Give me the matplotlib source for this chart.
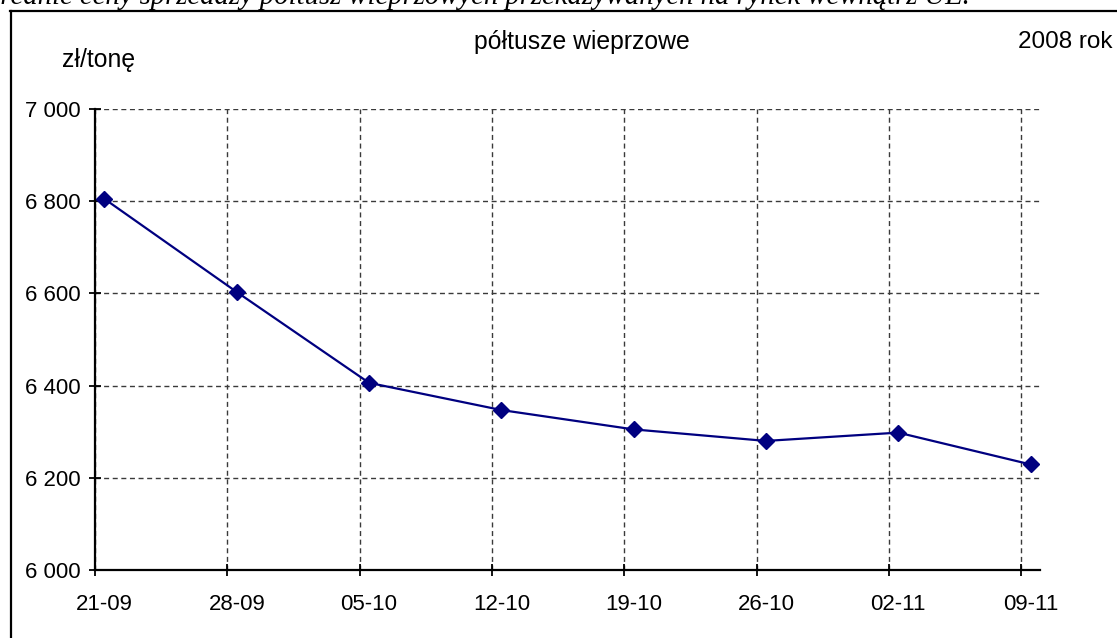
import matplotlib
matplotlib.use('Agg')
import matplotlib.pyplot as plt
import matplotlib.dates as mdates
from matplotlib.lines import Line2D
from datetime import datetime

# ---- data ----
dates = ['2008-09-21', '2008-09-28', '2008-10-05', '2008-10-12',
         '2008-10-19', '2008-10-26', '2008-11-02', '2008-11-09']
tick_labels = ['21-09', '28-09', '05-10', '12-10', '19-10', '26-10', '02-11', '09-11']
prices = [6805, 6603, 6406, 6347, 6305, 6280, 6298, 6229]
y_ticks = [6000, 6200, 6400, 6600, 6800, 7000]
y_tick_labels = ['6 000', '6 200', '6 400', '6 600', '6 800', '7 000']
title = 'półtusze wieprzowe'
unit_label = 'zł/tonę'
year_label = '2008 rok'
top_caption = 'Średnie ceny sprzedaży półtusz wieprzowych przekazywanych na rynek wewnątrz UE.'

plt.rcParams['font.family'] = ['Liberation Sans', 'DejaVu Sans']

W, H = 1117, 638
fig = plt.figure(figsize=(W / 100, H / 100), dpi=100)
fig.patch.set_facecolor('white')

L, R, T, B = 95, 1040, 109, 570
ax = fig.add_axes([L / W, 1 - B / H, (R - L) / W, (B - T) / H])

d = [datetime.strptime(s, '%Y-%m-%d') for s in dates]
major = [mdates.date2num(t) for t in d]
centers = [m + 0.5 for m in major]

ax.plot(centers, prices, color='#000080', lw=1.6, marker='D', ms=8.5,
        mfc='#000080', mec='#000080', zorder=3, clip_on=False)

ax.set_xlim(major[0], major[-1] + 1)
ax.set_ylim(y_ticks[0], y_ticks[-1])

ax.set_xticks(major)
ax.set_xticklabels([])
ax.set_xticks(centers, minor=True)
ax.set_xticklabels(tick_labels, minor=True)
ax.set_yticks(y_ticks)
ax.set_yticklabels(y_tick_labels)

ax.tick_params(axis='x', which='major', direction='inout', length=9, width=1.3, color='black')
ax.tick_params(axis='x', which='minor', length=0, pad=17, labelsize=16)
ax.tick_params(axis='y', which='major', direction='inout', length=9, width=1.3, pad=6, labelsize=16)

ax.grid(True, which='major', linestyle=(0, (3.6, 2.6)), color='#3a3a3a', lw=1)
for s in ['top', 'right']:
    ax.spines[s].set_visible(False)
for s in ['left', 'bottom']:
    ax.spines[s].set_linewidth(1.6)
    ax.spines[s].set_color('black')

fig.text(582 / W, 1 - 49 / H, title, ha='center', va='baseline', fontsize=17.8)
fig.text(62 / W, 1 - 67 / H, unit_label, ha='left', va='baseline', fontsize=17.8)
fig.text(1018 / W, 1 - 48 / H, year_label, ha='left', va='baseline', fontsize=17.5)

fig.text(970 / W, 1 - 4.5 / H, top_caption, ha='right', va='baseline',
         fontfamily=['Liberation Serif', 'DejaVu Serif'], style='italic', fontsize=20.6)

fig.add_artist(Line2D([10 / W, 1.0], [1 - 11 / H, 1 - 11 / H], transform=fig.transFigure,
                      color='black', lw=1.6))
fig.add_artist(Line2D([11 / W, 11 / W], [0.0, 1 - 11 / H], transform=fig.transFigure,
                      color='black', lw=1.6))

fig.savefig('out.png', dpi=100)
